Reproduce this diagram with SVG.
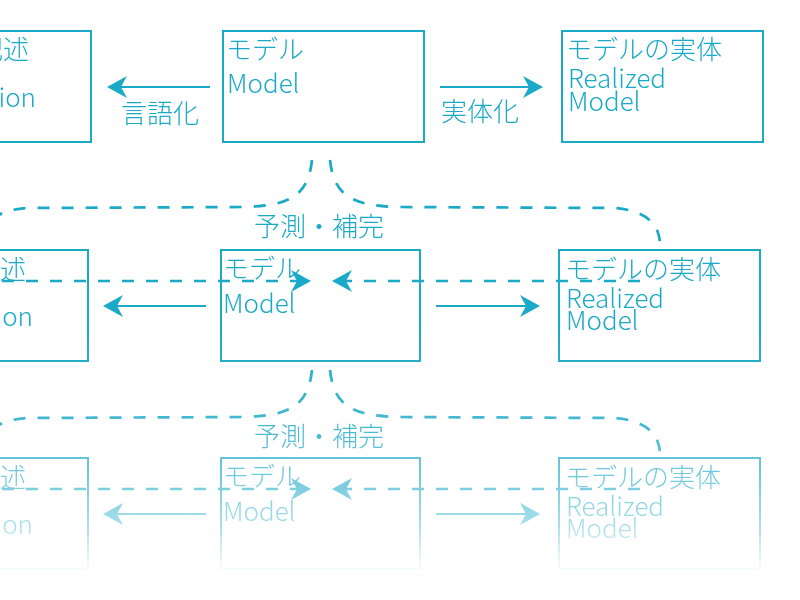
<svg xmlns="http://www.w3.org/2000/svg" width="800" height="600" viewBox="0 0 800 600">
<style>
.box{fill:none;stroke:#1aa9c7;stroke-width:2}
.t{font-family:"Noto Sans CJK JP","Noto Sans",sans-serif;font-weight:300;font-size:26px;fill:#1aa9c7}
.e{text-anchor:end}
.m{text-anchor:middle}
.solid{stroke:#1aa9c7;stroke-width:2;fill:none}
.dash{stroke:#1aa9c7;stroke-width:2.7;fill:none;stroke-dasharray:12 12}
</style>
<defs>
<marker id="ah" viewBox="-20 -11 20 22" refX="-8" refY="0" markerWidth="20" markerHeight="22" markerUnits="userSpaceOnUse" orient="auto">
<path d="M0,0 L-20,-11 L-14,0 L-20,11 Z" fill="#1aa9c7"/>
</marker>
<linearGradient id="fg" gradientUnits="userSpaceOnUse" x1="0" y1="0" x2="0" y2="600">
<stop offset="0" stop-color="#fff"/>
<stop offset="0.55" stop-color="#fff"/>
<stop offset="0.717" stop-color="#fff" stop-opacity="0.8"/>
<stop offset="0.8" stop-color="#fff" stop-opacity="0.6"/>
<stop offset="0.875" stop-color="#fff" stop-opacity="0.38"/>
<stop offset="0.933" stop-color="#fff" stop-opacity="0.1"/>
<stop offset="0.958" stop-color="#fff" stop-opacity="0"/>
<stop offset="1" stop-color="#fff" stop-opacity="0"/>
</linearGradient>
<mask id="fade" maskUnits="userSpaceOnUse" x="0" y="0" width="800" height="600">
<rect x="0" y="0" width="800" height="600" fill="url(#fg)"/>
</mask>
</defs>
<rect x="0" y="0" width="800" height="600" fill="#fff"/>
<g mask="url(#fade)">
<g id="connectors">
<path class="solid" d="M210,87 H115" marker-end="url(#ah)"/>
<path class="solid" d="M440,87 H535" marker-end="url(#ah)"/>
<path class="dash" d="M312,160 C308,198 287,206 242,207 L27,208 C-6,210 -18,225 -18,245"/>
<path class="dash" d="M330,160 C334,198 355,206 400,207 L615,208 C640,210 660,220 660,245"/>
<path class="dash" d="M2,281 H303" marker-end="url(#ah)"/>
<path class="dash" d="M640,281 H340" marker-end="url(#ah)"/>
<path class="solid" d="M206,306 H111" marker-end="url(#ah)"/>
<path class="solid" d="M436,306 H532" marker-end="url(#ah)"/>
<path class="dash" d="M312,370 C308,408 287,416 242,417 L27,418 C-6,420 -18,435 -18,455"/>
<path class="dash" d="M330,370 C334,408 355,416 400,417 L615,418 C640,420 660,430 660,455"/>
<path class="dash" d="M2,489 H303" marker-end="url(#ah)"/>
<path class="dash" d="M640,489 H340" marker-end="url(#ah)"/>
<path class="solid" d="M206,514 H111" marker-end="url(#ah)"/>
<path class="solid" d="M436,514 H532" marker-end="url(#ah)"/>
<text class="t m" x="160" y="123">言語化</text>
<text class="t m" x="480" y="121">実体化</text>
<text class="t m" x="319" y="236">予測・補完</text>
<text class="t m" x="319" y="446">予測・補完</text>
</g>
<g id="desc1">
<rect class="box" x="-112" y="31" width="203" height="111"/>
<text class="t e" x="29" y="59">記述</text>
<text class="t e" x="36" y="107">Description</text>
</g>
<g id="model1">
<rect class="box" x="223" y="31" width="201" height="111"/>
<text class="t" x="226" y="59">モデル</text>
<text class="t" x="227" y="93">Model</text>
</g>
<g id="realized1">
<rect class="box" x="562" y="31" width="201" height="111"/>
<text class="t" x="566" y="59">モデルの実体</text>
<text class="t" x="568" y="88">Realized</text>
<text class="t" x="568" y="111">Model</text>
</g>
<g id="desc2">
<rect class="box" x="-112" y="250" width="200" height="111"/>
<text class="t e" x="26" y="279">記述</text>
<text class="t e" x="33" y="326">Description</text>
</g>
<g id="model2">
<rect class="box" x="221" y="250" width="199" height="111"/>
<text class="t" x="223" y="278">モデル</text>
<text class="t" x="223" y="313">Model</text>
</g>
<g id="realized2">
<rect class="box" x="559" y="250" width="201" height="111"/>
<text class="t" x="565" y="279">モデルの実体</text>
<text class="t" x="566" y="308">Realized</text>
<text class="t" x="566" y="330">Model</text>
</g>
<g id="desc3">
<rect class="box" x="-112" y="458" width="200" height="111"/>
<text class="t e" x="26" y="487">記述</text>
<text class="t e" x="33" y="534">Description</text>
</g>
<g id="model3">
<rect class="box" x="221" y="458" width="199" height="111"/>
<text class="t" x="223" y="486">モデル</text>
<text class="t" x="223" y="521">Model</text>
</g>
<g id="realized3">
<rect class="box" x="559" y="458" width="201" height="111"/>
<text class="t" x="565" y="487">モデルの実体</text>
<text class="t" x="566" y="516">Realized</text>
<text class="t" x="566" y="538">Model</text>
</g>
</g>
</svg>
